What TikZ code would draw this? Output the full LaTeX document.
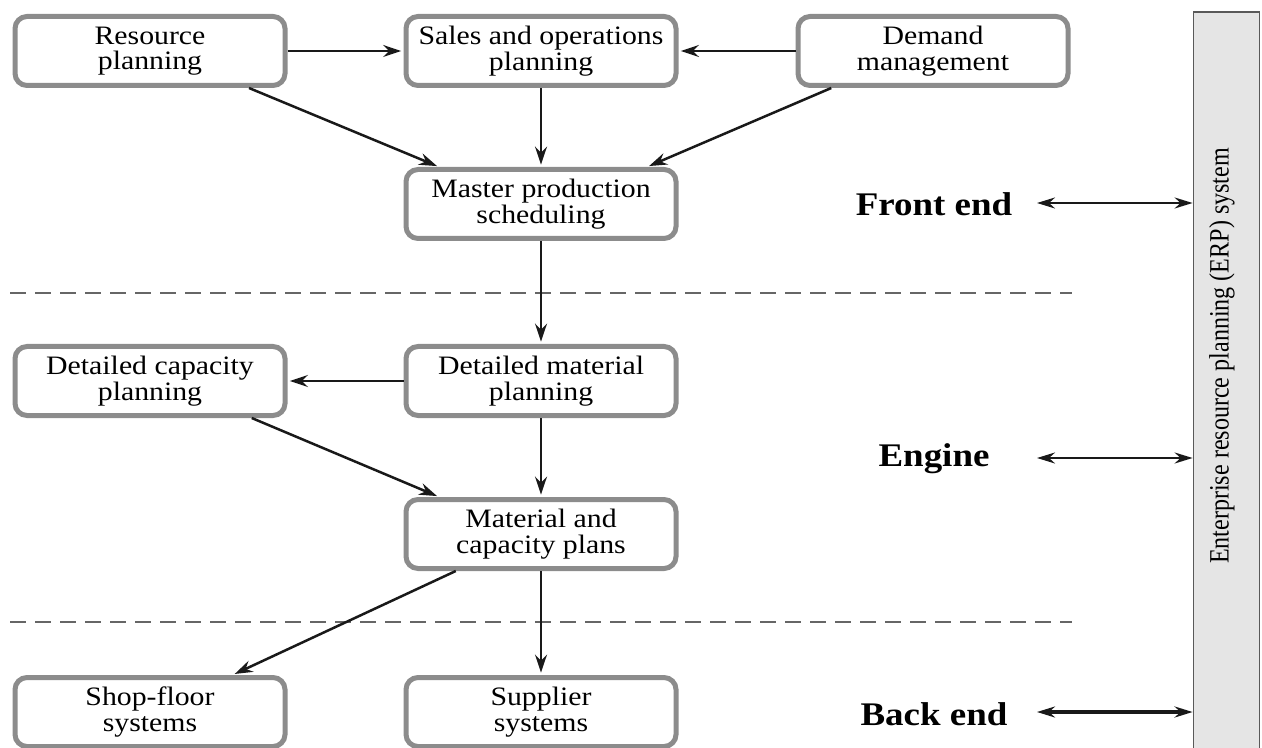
\documentclass[tikz,border=0pt]{standalone}
\usepackage{fontspec}
\setmainfont[FakeStretch=1.12]{Liberation Serif}
\newfontfamily\erpfont[FakeStretch=0.86]{Liberation Serif}
\usetikzlibrary{arrows.meta,calc}
\begin{document}
\begin{tikzpicture}[x=0.5pt,y=-0.5pt,
  box/.style={draw=black!45, line width=2.5pt, fill=white, rounded corners=6pt,
    minimum width=135pt, minimum height=34.5pt, align=center,
    font=\fontsize{13.3}{12.8}\selectfont, inner sep=0pt},
  tip/.style={Stealth[length=9pt,width=6pt,inset=3pt]},
  flow/.style={draw=black!90, line width=1.25pt, -{Stealth[length=9pt,width=6pt,inset=3pt]},
    shorten >=1.2pt},
  biarrow/.style={draw=black!90, line width=1.2pt,
    {Stealth[length=9pt,width=5.5pt,inset=3pt]}-{Stealth[length=9pt,width=5.5pt,inset=3pt]}},
  sep/.style={draw=black!60, line width=0.7pt, dash pattern=on 8pt off 4.5pt},
  side/.style={font=\fontsize{16.5}{17}\selectfont\bfseries}
]
\useasboundingbox (0,0) rectangle (1262,748);

% ERP system bar on the right
\node[draw=black!65, fill=black!10, line width=0.9pt, minimum width=33pt,
      minimum height=374pt, inner sep=0pt] (erp) at (1226.5,386) {};
\node[rotate=90, font=\erpfont\fontsize{14}{14}\selectfont] (erplabel) at (1222,356)
  {Enterprise resource planning (ERP) system};

% planning boxes
\node[box] (rp)   at (150,51)  {Resource\\planning};
\node[box] (sop)  at (541,51)  {Sales and operations\\planning};
\node[box] (dm)   at (933,51)  {Demand\\management};
\node[box] (mps)  at (541,204) {Master production\\scheduling};
\node[box] (dcp)  at (150,381) {Detailed capacity\\planning};
\node[box] (dmp)  at (541,381) {Detailed material\\planning};
\node[box] (mcp)  at (541,534) {Material and\\capacity plans};
\node[box] (shop) at (150,712) {Shop-floor\\systems};
\node[box] (sup)  at (541,712) {Supplier\\systems};

% section separators
\coordinate (s1l) at (10,293);  \coordinate (s1r) at (1072,293);
\coordinate (s2l) at (10,622);  \coordinate (s2r) at (1072,622);
\draw[sep] (s1l) -- (s1r);
\draw[sep] (s2l) -- (s2r);

% flows between boxes
\draw[flow] (rp.east) -- (sop.west);
\draw[flow] (dm.west) -- (sop.east);
\draw[flow] (sop.south) -- (mps.north);
\draw[flow] ($(rp.south west)!0.86!(rp.south east)$) -- ($(mps.north west)!0.13!(mps.north east)$);
\draw[flow] ($(dm.south west)!0.13!(dm.south east)$) -- ($(mps.north west)!0.885!(mps.north east)$);
\draw[flow] (mps.south) -- (dmp.north);
\draw[flow] (dmp.west) -- (dcp.east);
\draw[flow] (dmp.south) -- (mcp.north);
\draw[flow] ($(dcp.south west)!0.87!(dcp.south east)$) -- ($(mcp.north west)!0.13!(mcp.north east)$);
\draw[flow] ($(mcp.south west)!0.19!(mcp.south east)$) -- ($(shop.north west)!0.8!(shop.north east)$);
\draw[flow] (mcp.south) -- (sup.north);

% layer labels linked to the ERP system
\node[side] (fe) at (934,204) {Front end};
\node[side] (en) at (934,459) {Engine};
\node[side] (be) at (934,714) {Back end};
\coordinate (fea) at (1037,203);
\coordinate (ena) at (1037,458);
\coordinate (bea) at (1037,712);
\draw[biarrow] (fea) -- (fea -| erp.west);
\draw[biarrow] (ena) -- (ena -| erp.west);
\draw[biarrow, line width=1.6pt] (bea) -- (bea -| erp.west);
\end{tikzpicture}
\end{document}
